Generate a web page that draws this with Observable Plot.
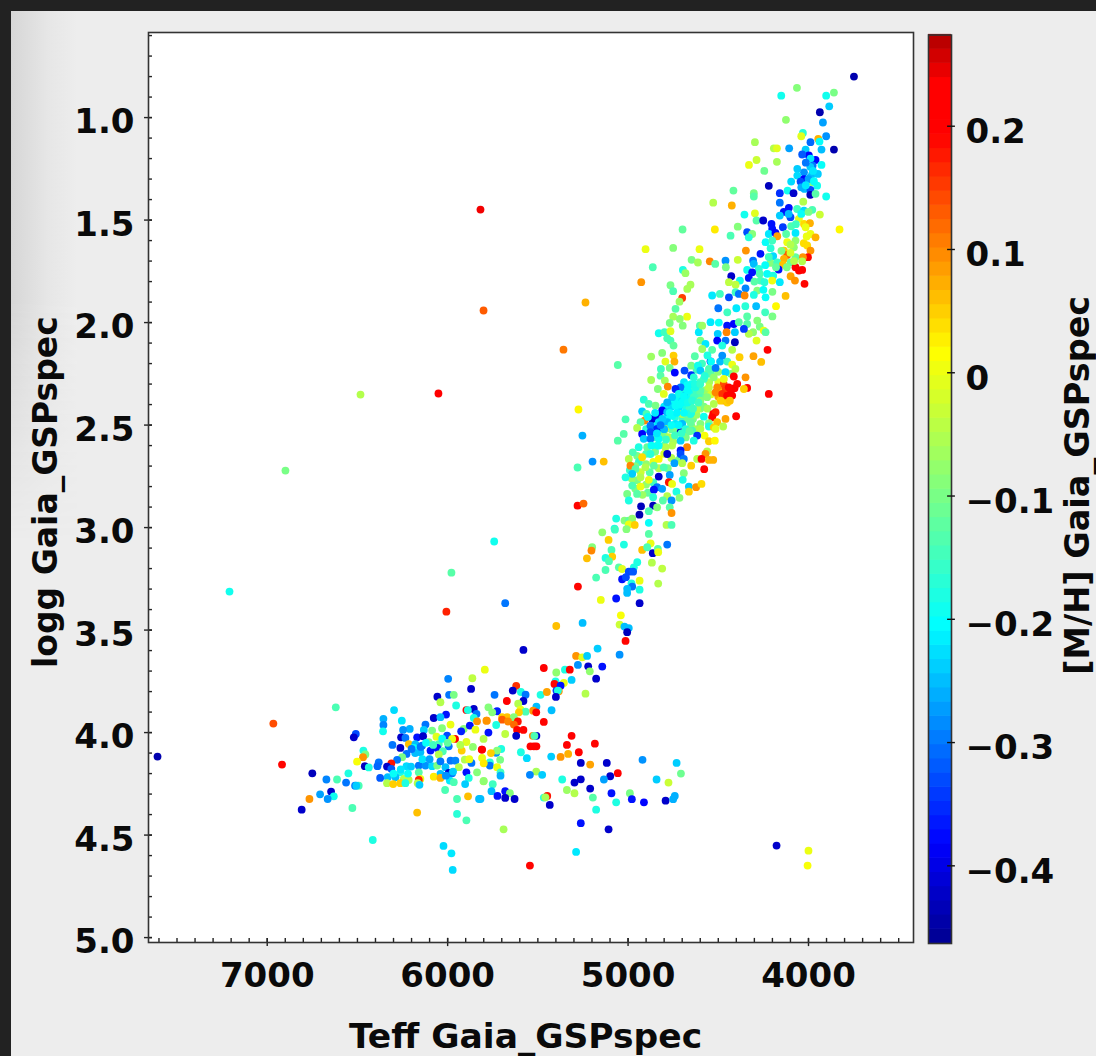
<!DOCTYPE html>
<html><head><meta charset="utf-8">
<script src="https://cdn.jsdelivr.net/npm/d3@7"></script>
<script src="https://cdn.jsdelivr.net/npm/@observablehq/plot@0.6"></script>
<style>
html,body{margin:0;padding:0;background:#ededed}
#page{position:relative;width:1096px;height:1056px;overflow:hidden;background:#ededed}
#shade{position:absolute;left:11px;top:11px;width:66px;height:560px;background:linear-gradient(to right,#d6d6d6,#e6e6e6 55%,#ededed);-webkit-mask-image:linear-gradient(to bottom,#000 0,#000 290px,transparent 530px);mask-image:linear-gradient(to bottom,#000 0,#000 290px,transparent 530px)}
#barTop{position:absolute;left:0;top:0;width:1096px;height:11px;background:#222}
#barLeft{position:absolute;left:0;top:0;width:11px;height:1056px;background:#222}
#page svg{position:absolute;left:0;top:0}
#page svg text{font-family:"DejaVu Sans",sans-serif;font-weight:bold;fill:#0a0a0a}
</style></head><body>
<div id="page"><div id="shade"></div><div id="barTop"></div><div id="barLeft"></div></div>
<script>
// [Teff, logg, [M/H]]
const outliers=[[7608,4.117,-.44],[6966,3.956,.14],[7209,3.312,-.19],[6899,2.722,-.1],[6483,2.351,-.05],[6051,2.346,.23],[5818,1.449,.24],[5801,1.941,.13],[5358,2.132,.11],[5236,1.902,.07],[5275,2.424,.02],[5253,2.551,-.26],[5280,2.707,-.14],[5197,2.678,-.28],[5280,2.893,.19],[5247,2.883,.12],[5979,3.22,-.13],[6007,3.41,.17],[4177,4.551,-.42],[4000,4.576,0],[4005,4.649,.01],[5742,3.068,-.19],[5681,3.369,-.3],[5544,4.649,.19]];
const upperBranch=[[3748,.80,-.44],[4064,.855,-.09],[4151,.893,-.19],[3902,.893,-.19],[3859,.878,-.1],[3885,.945,-.24],[3937,.974,-.44],[4125,1.011,-.08],[3920,1.024,-.27],[4031,1.075,-.17],[4040,1.091,-.01],[3946,1.104,.07],[3902,1.091,-.28],[3989,1.12,-.31],[3939,1.117,-.2],[4297,1.12,-.06],[4192,1.15,-.05],[4175,1.15,-.01],[4107,1.15,-.27],[3859,1.156,-.44],[3928,1.156,-.25],[4016,1.156,-.24],[3998,1.185,-.38],[4035,1.18,-.32],[3961,1.207,-.38],[3989,1.2,-.22],[4288,1.207,-.03],[4330,1.231,0],[4175,1.216,-.06],[3928,1.231,-.2],[3977,1.234,-.3],[4245,1.26,-.11],[4062,1.25,-.24],[4025,1.267,-.28],[3979,1.275,-.24],[3948,1.275,-.24],[4062,1.283,-.23],[4025,1.3,-.38],[3989,1.29,-.25],[4096,1.312,-.23],[4044,1.312,-.33],[3979,1.315,-.09],[3952,1.332,-.19],[4220,1.333,-.43],[4416,1.356,-.12],[4116,1.356,-.19],[4022,1.348,-.25],[3989,1.353,-.33],[4303,1.369,-.1],[4303,1.385,-.13],[4159,1.369,-.35],[4083,1.369,-.42],[3990,1.377,-.43],[3961,1.372,-.13],[3902,1.385,-.19],[4528,1.415,-.05],[4425,1.429,.07],[4159,1.415,-.3],[4029,1.41,-.05],[4109,1.44,-.37],[4137,1.46,-.37],[4063,1.446,-.15],[4025,1.454,-.23],[3979,1.45,-.14],[4355,1.473,-.19],[4297,1.467,-.01],[3937,1.473,-.03],[4159,1.478,-.24],[4100,1.486,-.33],[4288,1.502,-.13],[4251,1.502,-.42],[4053,1.494,-.01],[4025,1.519,.04],[3992,1.515,.07],[4205,1.519,-.37],[4201,1.543,-.37],[4142,1.535,-.34],[4096,1.53,-.14],[4016,1.535,0],[4698,1.546,-.12],[4519,1.546,.03],[4392,1.532,-.09],[3828,1.546,.02],[4340,1.559,-.33],[4312,1.568,-.09],[4432,1.576,-.14],[4331,1.584,-.17],[4220,1.568,-.22],[4183,1.563,-.38],[4124,1.568,-.13],[4072,1.563,-.22],[3989,1.568,0],[3961,1.584,.07],[4173,1.579,.08],[4238,1.608,-.2],[4201,1.6,-.15],[4118,1.608,0],[4072,1.6,-.08],[4026,1.613,.04],[4903,1.642,0],[4750,1.636,-.09],[4604,1.642,0],[4347,1.649,.09],[4210,1.637,-.17],[4136,1.649,.05],[4081,1.633,-.08],[4007,1.624,.04],[3989,1.649,.09],[4266,1.665,-.37],[4196,1.676,-.23],[4118,1.67,.13],[4136,1.689,.07],[4072,1.681,-.12],[4003,1.681,.19],[4031,1.681,.09],[4648,1.694,-.1],[4613,1.707,-.06],[4547,1.701,.1],[4517,1.714,-.13],[4460,1.698,-.28],[4458,1.73,-.1],[4392,1.694,-.03],[4307,1.698,-.3],[4303,1.714,-.25],[4210,1.709,-.09],[4173,1.706,-.15],[4142,1.717,.06],[4099,1.706,-.12],[4035,1.701,-.05],[4863,1.73,-.14],[4696,1.743,-.18],[4682,1.759,-.07],[4340,1.743,-.19],[4275,1.738,-.17],[4166,1.741,-.37],[4072,1.73,.2],[4035,1.743,.2],[4053,1.746,.2],[4428,1.774,-.42],[4312,1.755,-.37],[4331,1.782,-.37],[4270,1.762,-.14],[4229,1.762,-.2],[4099,1.774,.08],[4196,1.771,-.18],[4927,1.803,.09],[4765,1.818,-.1],[4654,1.815,-.06],[4672,1.836,-.06],[4750,1.847,-.14],[4380,1.795,-.19],[4441,1.803,-.04],[4404,1.815,-.04],[4266,1.795,-.14],[4244,1.803,-.17],[4201,1.795,0],[4159,1.803,-.22],[4075,1.795,.09],[4022,1.811,.19],[4349,1.833,-.29],[4284,1.844,-.09],[4404,1.852,-.15],[4491,1.86,-.15],[4534,1.868,-.22],[4700,1.88,.15],[4441,1.877,-.33],[4386,1.86,-.3],[4354,1.868,.1],[4303,1.865,-.18],[4238,1.877,-.2],[4127,1.87,.06],[3990,1.24,-.24],[4015,1.22,-.3],[3975,1.26,-.22],[4000,1.3,-.27],[4040,1.34,-.26],[3970,1.31,-.2],[4015,1.33,-.22],[4070,1.52,-.15],[4040,1.47,-.2],[4110,1.47,-.25],[4000,1.46,-.1],[4010,1.58,0],[4100,1.62,-.05],[4240,1.72,-.2],[4150,1.65,-.1],[4100,1.66,-.02],[4220,1.68,-.15],[4180,1.73,-.12],[4120,1.73,-.1],[4080,1.7,-.05],[4300,1.8,-.13],[4250,1.84,-.2],[4200,1.85,-.1],[4350,1.92,-.17],[4290,1.92,-.25],[4240,1.95,-.15],[4200,1.97,-.1],[4400,1.93,-.22],[4450,1.95,-.15],[4500,1.93,-.3],[4340,1.97,-.13],[4270,2.02,-.1],[4180,1.92,.02]];
const clump=[[4715,1.898,-.07],[4737,1.933,-.13],[4750,1.971,-.06],[4673,1.971,0],[4769,2.002,-.1],[4713,1.982,-.08],[4697,2.015,-.09],[4830,2.052,-.19],[4798,2.047,-.15],[4765,2.042,-.01],[4783,2.077,-.14],[4765,2.088,-.14],[4748,2.112,-.12],[4872,2.166,-.07],[4811,2.148,-.09],[4748,2.161,.05],[4793,2.19,-.01],[4743,2.19,.07],[5057,2.207,-.13],[4818,2.226,-.15],[4769,2.221,-.1],[4741,2.244,-.38],[4687,2.234,-.33],[4650,2.257,-.35],[4872,2.28,-.06],[4820,2.259,-.13],[4796,2.283,-.06],[4780,2.312,.1],[4835,2.324,-.09],[4802,2.348,-.01],[4630,2.164,-.13],[4602,2.015,-.13],[4608,2.047,-.22],[4589,2.015,-.07],[4543,1.998,-.22],[4497,2.0,-.2],[4451,2.015,-.37],[4414,2.007,-.38],[4386,1.998,-.13],[4340,2.007,-.13],[4284,1.99,-.09],[4248,2.039,0],[4238,2.047,-.13],[4307,2.047,-.08],[4331,2.055,-.05],[4288,2.088,-.01],[4358,2.031,-.34],[4408,2.047,-.24],[4454,2.047,.1],[4503,2.055,-.24],[4506,2.088,-.38],[4460,2.088,-.3],[4408,2.096,-.43],[4599,2.088,-.09],[4571,2.104,-.22],[4589,2.129,-.07],[4534,2.133,-.13],[4478,2.112,-.18],[4423,2.133,-.05],[4478,2.161,-.28],[4382,2.169,.05],[4305,2.164,.08],[4262,2.192,.06],[4227,2.133,.2],[4543,2.189,-.37],[4423,2.205,0],[4405,2.226,-.05],[4613,2.21,-.19],[4599,2.234,-.24],[4552,2.226,-.14],[4515,2.221,-.3],[4460,2.242,-.23],[4636,2.267,-.17],[4580,2.275,-.15],[4525,2.267,-.08],[4469,2.275,0],[4414,2.263,.2],[4349,2.267,.09],[4395,2.299,.19],[4340,2.319,.23],[4358,2.324,.05],[4442,2.316,.19],[4506,2.316,.1],[4220,2.348,.2],[4515,2.34,.1],[4478,2.348,.16],[4423,2.356,.23],[4451,2.356,.2],[4436,2.381,.06],[4488,2.381,.05],[4525,2.397,-.05],[4562,2.364,-.09],[4599,2.332,-.13],[4552,2.316,-.04],[4626,2.316,-.18],[4673,2.307,-.2],[4709,2.316,-.3],[4737,2.324,-.36],[4663,2.34,-.19],[4691,2.356,-.24],[4719,2.348,-.19],[4756,2.364,-.24],[4783,2.389,-.26],[4636,2.364,-.15],[4599,2.381,-.09],[4654,2.397,-.14],[4700,2.389,-.2],[4737,2.405,-.2],[4913,2.376,-.17],[4885,2.397,-.14],[4922,2.433,-.24],[4848,2.405,-.1],[4811,2.429,-.38],[4830,2.454,-.38],[4867,2.47,-.42],[4848,2.462,-.4],[4909,2.478,.1],[4898,2.446,-.14],[4783,2.437,-.25],[4756,2.454,-.2],[4700,2.446,-.05],[4654,2.446,-.18],[4617,2.421,-.05],[4580,2.459,-.19],[4528,2.446,.21],[4515,2.437,.17],[4534,2.462,.19],[4460,2.47,.08],[4401,2.457,.2],[4506,2.486,.06],[4552,2.491,-.1],[4599,2.494,-.09],[4654,2.486,-.12],[4700,2.494,-.25],[4737,2.494,-.22],[4783,2.486,-.25],[4830,2.486,-.23],[4876,2.503,-.3],[4931,2.486,-.13],[4950,2.514,-.05],[5014,2.472,-.14],[5024,2.543,-.13],[5057,2.576,-.13],[4922,2.543,-.38],[4876,2.535,-.33],[4913,2.567,-.24],[4839,2.519,-.36],[4793,2.519,-.05],[4774,2.559,-.05],[4830,2.567,-.2],[4876,2.567,-.3],[4709,2.535,-.42],[4682,2.524,-.1],[4645,2.527,-.14],[4599,2.519,-.05],[4552,2.507,-.18],[4473,2.507,-.05],[4525,2.511,.05],[4515,2.519,-.01],[4576,2.551,.01],[4617,2.551,-.35],[4709,2.576,-.24],[4636,2.576,-.18],[4552,2.579,.05],[4519,2.576,.02],[4673,2.608,.1],[4709,2.624,-.37],[4756,2.6,-.05],[4793,2.608,-.05],[4839,2.6,-.18],[4894,2.608,-.12],[4941,2.608,-.18],[4974,2.633,-.14],[4996,2.665,-.05],[4922,2.657,.04],[4876,2.641,-.17],[4830,2.665,.02],[4783,2.641,-.42],[4709,2.641,-.33],[5135,2.678,.06],[4562,2.628,-.05],[4571,2.641,.09],[4617,2.665,-.05],[4593,2.665,.2],[4552,2.67,.07],[4528,2.67,.07],[4691,2.665,-.3],[4743,2.686,-.27],[4700,2.686,-.05],[4650,2.698,.05],[4578,2.715,.2],[4987,2.698,.1],[4959,2.714,-.13],[4904,2.706,-.05],[4857,2.698,-.12],[4802,2.706,-.14],[4977,2.738,-.24],[5014,2.755,-.18],[4931,2.755,-.05],[4885,2.767,0],[4830,2.751,-.42],[4769,2.743,-.27],[4691,2.735,-.09],[4697,2.767,-.18],[4977,2.795,-.14],[4931,2.8,0],[4839,2.803,-.3],[4811,2.811,-.27],[4774,2.779,.18],[4756,2.787,0],[4663,2.8,-.24],[4623,2.803,.09],[4593,2.787,.04],[4663,2.825,.05],[5005,2.836,-.1],[4950,2.836,-.13],[4857,2.815,-.37],[4996,2.868,-.18],[4783,2.847,-.05],[4732,2.825,-.18],[4715,2.855,-.09],[4861,2.852,-.17],[4759,2.868,-.28],[4807,2.868,-.13],[4928,2.897,-.43],[4861,2.893,-.43],[4839,2.901,-.09],[4769,2.901,-.13],[4885,2.92,-.14],[4937,2.937,-.44],[4759,2.929,.09],[5066,2.956,-.18],[5020,2.966,-.09],[4996,2.966,-.12],[4977,2.957,-.08],[4996,2.985,0],[4963,2.987,.05],[4885,2.977,-.2],[4787,2.987,-.05],[4759,2.987,-.14],[5075,3.005,-.18],[5009,3.008,-.09]];
const clumpCore=[[4700,2.33,-.2],[4685,2.34,-.17],[4670,2.36,-.2],[4720,2.37,-.19],[4745,2.38,-.2],[4700,2.38,-.22],[4680,2.41,-.18],[4660,2.42,-.15],[4720,2.42,-.22],[4760,2.41,-.23],[4800,2.41,-.22],[4780,2.46,-.2],[4740,2.46,-.17],[4700,2.47,-.15],[4670,2.47,-.12],[4640,2.47,-.1],[4620,2.45,-.07],[4600,2.42,-.08],[4580,2.41,-.1],[4560,2.42,-.06],[4590,2.36,-.12],[4610,2.35,-.14],[4640,2.33,-.15],[4650,2.3,-.19],[4690,2.29,-.22],[4600,2.29,-.14],[4570,2.33,-.07],[4540,2.35,-.02],[4550,2.29,-.06],[4500,2.29,-.01],[4490,2.33,.04],[4470,2.3,.14],[4460,2.32,.15],[4430,2.33,.2],[4410,2.32,.22],[4500,2.36,.08],[4470,2.38,.09],[4450,2.39,.05],[4560,2.25,-.1],[4590,2.2,-.15],[4540,2.25,-.13],[4500,2.24,-.08],[4490,2.19,-.25],[4450,2.19,-.15],[4430,2.25,-.1],[4620,2.23,-.15],[4650,2.21,-.1],[4860,2.5,-.2],[4820,2.53,-.12],[4800,2.55,-.1],[4850,2.56,-.15],[4900,2.52,-.17],[4760,2.52,-.12],[4730,2.53,-.1],[4650,2.5,-.1],[4620,2.52,-.06],[4680,2.56,-.1],[4750,2.58,-.06],[4800,2.6,-.12],[4850,2.63,-.1],[4900,2.64,-.14],[4950,2.65,-.1],[4800,2.64,-.02],[4760,2.66,-.05],[4720,2.67,-.1],[4860,2.68,0],[4900,2.69,-.08],[4940,2.68,-.16],[4960,2.7,-.1],[4830,2.71,-.05],[4780,2.71,-.1],[4880,2.73,-.13],[4930,2.73,-.03],[4990,2.72,-.16],[4950,2.77,-.1],[4900,2.79,-.08],[4960,2.81,-.1],[4890,2.83,-.12],[4920,2.84,-.07],[4980,2.76,-.07],[4860,2.78,-.15]];
const clumpTop=[[4690,2.36,-.2],[4715,2.4,-.2],[4670,2.39,-.19],[4645,2.38,-.17],[4650,2.44,-.18],[4690,2.44,-.2],[4730,2.44,-.21],[4770,2.44,-.2],[4810,2.47,-.24],[4760,2.5,-.2],[4720,2.5,-.21],[4680,2.52,-.17],[4640,2.42,-.15],[4610,2.39,-.15],[4630,2.3,-.18],[4670,2.33,-.2],[4800,2.52,-.25],[4840,2.54,-.22],[4870,2.6,-.2],[4830,2.6,-.2],[4790,2.57,-.16],[4740,2.55,-.15],[4705,2.54,-.16],[4660,2.53,-.12],[4600,2.3,-.16],[4575,2.26,-.17],[4540,2.19,-.2],[4560,2.16,-.18],[4890,2.46,-.2],[4850,2.44,-.22],[4820,2.5,-.3]];
const subgiants=[[5143,3.023,-.08],[5073,3.01,-.15],[5108,3.06,.05],[4885,3.031,-.13],[5023,3.083,-.18],[5199,3.096,-.09],[5203,3.112,.1],[5092,3.109,-.14],[5088,3.142,.05],[5125,3.148,-.18],[5228,3.15,.06],[5106,3.164,-.14],[4922,3.109,.06],[4875,3.077,0],[4894,3.096,-.14],[4863,3.125,-.42],[4835,3.104,-.13],[4833,3.12,0],[4783,3.083,-.3],[4868,3.171,-.05],[4811,3.2,-.04],[4949,3.169,-.18],[4968,3.194,-.18],[5125,3.207,-.14],[5051,3.194,-.13],[5033,3.202,-.01],[4996,3.215,-.33],[4972,3.215,-.32],[5177,3.244,-.14],[5033,3.252,-.37],[5012,3.242,-.33],[4981,3.272,-.18],[4977,3.288,-.3],[4936,3.259,0],[4833,3.273,-.05],[5278,3.288,.19],[4936,3.303,-.18],[5005,3.299,-.25],[5005,3.319,-.25],[5151,3.353,0],[5066,3.346,-.37],[4936,3.369,-.42],[5040,3.428,.01],[5047,3.473,-.03],[5398,3.48,.06],[5252,3.465,-.25],[5020,3.483,-.25],[4996,3.49,-.25],[5005,3.51,-.43],[5014,3.553,.19],[5580,3.597,-.42],[5169,3.59,-.24],[5047,3.62,-.28],[5288,3.626,.09],[5254,3.633,-.01],[5227,3.626,-.24],[5278,3.67,-.28],[5221,3.677,-.42],[5143,3.678,-.37],[5467,3.685,.23],[5794,3.693,0],[5350,3.693,-.18],[5323,3.693,.2],[5398,3.707,-.08],[5212,3.701,-.08],[5177,3.737,-.42],[5313,3.743,-.24],[5402,3.75,-.18],[5356,3.758,0],[5408,3.763,.19],[5620,3.772,.16],[5374,3.771,-.37],[5639,3.795,-.42],[5594,3.802,-.18],[5568,3.815,-.3],[5740,3.816,-.3],[5397,3.795,-.34],[5384,3.798,.09],[5389,3.795,-.18],[5485,3.816,-.18],[5450,3.802,.08],[5400,3.826,-.42],[5236,3.81,-.05],[5672,3.846,.2],[5580,3.846,-.42],[5609,3.859,-.05],[5774,3.877,-.09],[5508,3.873,-.25],[5596,3.888,0],[5726,3.896,-.36],[5753,3.901,-.09],[5568,3.898,-.14],[5424,3.891,-.25],[5526,3.893,.09],[5509,3.901,.22],[5605,3.901,.05],[5698,3.925,.05],[5670,3.925,.06],[5633,3.925,-.09],[5698,3.937,.13],[5783,3.942,.09],[5611,3.946,.18],[5467,3.948,.19],[5665,3.946,.1],[5633,3.961,.12],[5731,3.963,-.18],[5615,3.987,.22],[5580,3.987,.19],[5774,4.0,-.37],[5681,4.007,-.04],[5620,4.016,-.42],[5528,4.016,.1],[5508,4.016,-.42],[5519,4.016,-.14],[5313,4.016,.23],[5801,4.031,-.05],[5184,4.054,.19],[5339,4.06,.2],[5541,4.067,.23],[5522,4.067,.23],[5508,4.067,.2],[5809,4.083,.23],[5703,4.08,-.18],[5731,4.099,-.28],[5726,4.088,-.09],[5273,4.096,.23],[5332,4.104,.07],[5594,4.096,-.18],[5374,4.119,.09],[5426,4.117,-.24],[5561,4.125,-.23],[5809,4.124,0],[5709,4.133,-.1],[5766,4.145,-.17],[5766,4.161,-.3],[5262,4.148,-.42],[5118,4.148,-.42],[5210,4.156,.08],[4920,4.133,-.28],[4731,4.148,-.24],[5726,4.169,0],[5707,4.194,-.15],[5707,4.21,-.26],[5509,4.19,-.06],[5544,4.206,-.29],[5476,4.206,-.24],[5057,4.198,.23],[5099,4.213,-.42],[4707,4.2,-.11],[4842,4.229,-.24],[4776,4.244,-.03],[5365,4.229,-.18],[5262,4.228,-.42],[5297,4.244,-.42],[5134,4.229,-.27],[5801,4.238,-.06],[5750,4.252,-.15],[5757,4.286,-.25],[5339,4.28,-.07],[5297,4.296,-.05],[5210,4.273,-.42],[5092,4.296,-.37],[4990,4.296,-.1],[5681,4.286,-.37],[5655,4.296,-.09],[5724,4.309,-.37],[5681,4.319,-.42],[5629,4.324,-.42],[5448,4.309,.18],[5467,4.317,-.17],[5458,4.316,-.06],[5818,4.324,-.25],[5195,4.317,-.13],[5066,4.34,-.18],[4979,4.325,-.37],[4912,4.34,-.38],[4792,4.332,-.42],[4750,4.325,-.26],[4741,4.309,-.26],[5434,4.353,-.42],[5177,4.376,-.18],[5262,4.442,-.37],[5108,4.472,-.42],[5690,4.472,-.06],[5288,4.582,-.22]];
const dwarfs=[[5997,3.738,-.29],[5863,3.735,-.04],[5870,3.787,-.42],[6057,3.825,-.42],[5992,3.816,-.3],[5966,3.816,-.1],[6040,3.852,-.05],[5953,3.868,-.18],[6620,3.877,-.14],[6297,3.89,-.23],[5855,3.885,-.42],[5896,3.89,.19],[5888,3.89,-.18],[6009,3.912,-.37],[6077,3.929,-.42],[6040,3.925,-.25],[6356,3.933,-.26],[6254,3.942,-.22],[5840,3.909,-.3],[5855,3.929,-.18],[5837,3.945,.09],[5785,3.942,.09],[5984,3.961,0],[6123,3.961,-.3],[6356,3.963,-.29],[6210,3.982,-.26],[6247,3.987,-.28],[6132,3.987,-.24],[6358,3.994,-.19],[6086,3.99,-.1],[6031,3.979,-.09],[5911,3.982,-.09],[5877,3.966,-.37],[5846,3.986,0],[5925,3.994,-.36],[6509,4.007,-.33],[6520,4.023,-.42],[6258,4.023,-.42],[6234,4.026,-.3],[6169,4.023,-.37],[6136,4.018,-.42],[6062,4.02,-.01],[6003,4.015,-.33],[5959,4.031,.2],[5975,4.031,0],[5896,4.046,-.01],[6306,4.06,-.3],[6215,4.056,.06],[6179,4.056,-.25],[6105,4.047,-.09],[6049,4.056,-.14],[6188,4.075,-.2],[6142,4.064,-.3],[5994,4.067,-.3],[6262,4.075,-.42],[6467,4.088,-.18],[6095,4.088,-.37],[6058,4.075,-.37],[6027,4.091,-.14],[5922,4.088,.05],[5811,4.083,.22],[6228,4.104,-.3],[6151,4.096,-.25],[6049,4.107,-.05],[6456,4.107,-.1],[6469,4.12,.09],[6252,4.12,-.1],[6280,4.133,-.3],[6502,4.142,.01],[6382,4.145,-.3],[5905,4.132,-.05],[5984,4.137,-.3],[5957,4.137,-.29],[6312,4.15,.18],[6336,4.166,-.42],[6312,4.177,-.32],[6459,4.164,-.43],[6437,4.17,-.18],[6389,4.164,-.31],[6228,4.164,-.23],[6203,4.166,-.24],[6160,4.161,-.3],[6123,4.161,-.28],[6086,4.164,-.23],[6058,4.161,-.1],[6012,4.169,-.25],[5938,4.169,-.05],[5868,4.148,-.3],[5994,4.197,-.42],[5896,4.194,-.37],[6040,4.202,-.25],[5975,4.199,-.3],[6550,4.199,-.18],[6750,4.199,-.43],[6262,4.194,-.18],[6160,4.194,-.13],[5837,4.194,-.09],[6077,4.215,.03],[6040,4.221,.07],[5883,4.221,-.18],[6289,4.218,-.25],[6374,4.221,-.32],[6332,4.218,-.25],[6243,4.226,-.05],[6216,4.231,-.05],[6151,4.226,0],[6160,4.231,.17],[5988,4.234,-.22],[5966,4.242,-.14],[6672,4.229,-.29],[6613,4.229,-.14],[6563,4.244,-.3],[5800,4.236,-.08],[6336,4.247,-.05],[6302,4.251,.05],[6262,4.247,.05],[6234,4.247,-.18],[6166,4.247,-.05],[6156,4.255,-.24],[5903,4.251,-.24],[6513,4.259,-.3],[6493,4.259,-.14],[6506,4.259,-.24],[6646,4.288,-.42],[6707,4.301,-.27],[6631,4.311,-.19],[6665,4.324,-.28],[6766,4.324,.09],[6014,4.28,-.14],[5887,4.311,.06],[5948,4.324,-.14],[5826,4.324,-.25],[6528,4.368,-.14],[6809,4.376,-.42],[6169,4.39,.06],[5948,4.397,-.17],[5896,4.428,-.14],[6415,4.524,-.18],[6023,4.553,-.23],[5979,4.589,-.22],[5972,4.67,-.23],[6918,4.156,.19],[6150,4.07,-.3],[6120,4.05,-.2],[6180,4.1,-.25],[6140,4.13,-.22],[6100,4.13,-.27],[6200,4.08,-.3],[6220,4.2,-.2],[6260,4.18,-.22],[6300,4.2,-.2],[6040,4.14,-.3],[6010,4.21,-.28],[5970,4.19,-.24],[6080,4.06,-.15],[6030,4.03,-.2],[6000,4.05,-.12],[5930,4.06,-.05],[5880,4.13,0],[5860,4.07,-.08],[5800,4.15,.03],[5760,4.1,.05]];
const stars=[...upperBranch,...clumpCore,...clump,...clumpTop,...subgiants,...dwarfs,...outliers];
const teffTicks=[7000,6000,5000,4000];
const loggTicks=[1,1.5,2,2.5,3,3.5,4,4.5,5];
const metalTicks=[.2,.1,0,-.1,-.2,-.3,-.4];
const teffMinor=d3.range(3500,7700,100);
const loggMinor=d3.range(.6,5.05,.1);
const teffDomain=[7658,3418], loggDomain=[5.024,.585], metalDomain=[-.463,.274];
const jetStops=["#000090","#0000ff","#00ffff","#ffff00","#ff0000","#ff0000","#b00000"];
const jet=d3.scaleLinear().domain([0,.11,.35,.65,.89,.945,1]).range(jetStops);
const colorScale={type:"linear",domain:metalDomain,interpolate:()=>t=>jet(t)};
const minus=s=>String(s).replace("-","\u2212");
const fs=34;

const main=Plot.plot({
  width:1096,height:1056,marginLeft:148,marginRight:183,marginTop:32,marginBottom:114,
  style:{background:"transparent"},
  x:{domain:teffDomain},y:{domain:loggDomain},color:colorScale,
  marks:[
    Plot.frame({fill:"white",stroke:"none"}),
    Plot.dot(stars,{x:d=>d[0],y:d=>d[1],fill:d=>d[2],r:3.9}),
    Plot.ruleX(teffMinor,{y1:5.024,y2:5.004,stroke:"#222",strokeWidth:1.4}),
    Plot.ruleX(teffTicks,{y1:5.044,y2:5.004,stroke:"#222",strokeWidth:1.4}),
    Plot.ruleY(loggMinor,{x1:teffDomain[0],x2:teffDomain[0]-22,stroke:"#222",strokeWidth:1.4}),
    Plot.ruleY(loggTicks,{x1:teffDomain[0]+22,x2:teffDomain[0]-22,stroke:"#222",strokeWidth:1.4}),
    Plot.frame({stroke:"#333",strokeWidth:1.6}),
    Plot.axisX(teffTicks,{anchor:"bottom",tickSize:0,tickPadding:20,fontSize:fs,tickFormat:d=>String(d),label:null}),
    Plot.axisY(loggTicks,{anchor:"left",tickSize:0,tickPadding:14,dy:5,fontSize:fs,tickFormat:d=>d.toFixed(1),label:null}),
    Plot.text(["Teff Gaia_GSPspec"],{frameAnchor:"middle",lineAnchor:"bottom",dx:-5.5,dy:560,fontSize:34.5}),
    Plot.text(["logg Gaia_GSPspec"],{frameAnchor:"middle",lineAnchor:"bottom",rotate:-90,dx:-474.5,dy:4.6,fontSize:33})
  ]
});
document.getElementById("page").appendChild(main);

const levels=d3.range(64).map(i=>metalDomain[0]+(metalDomain[1]-metalDomain[0])*i/64);
const step=(metalDomain[1]-metalDomain[0])/64;
const bar=Plot.plot({
  width:1096,height:1056,marginLeft:928,marginRight:145,marginTop:34.5,marginBottom:113,
  style:{background:"transparent"},
  x:{domain:[0,1],axis:null},y:{domain:metalDomain},color:colorScale,
  marks:[
    Plot.rect(levels,{x1:0,x2:1,y1:d=>d,y2:d=>d+step+.0005,fill:d=>d+step/2}),
    Plot.frame({stroke:"#333",strokeWidth:1.6}),
    Plot.ruleY(metalTicks,{x1:.83,x2:1.17,stroke:"#111",strokeWidth:1.4}),
    Plot.axisY(metalTicks,{anchor:"right",tickSize:0,tickPadding:14,dy:6,fontSize:fs,tickFormat:d=>minus(d),label:null}),
    Plot.text(["[M/H] Gaia_GSPspec"],{frameAnchor:"middle",lineAnchor:"bottom",rotate:-90,dx:148.5,dy:-4,fontSize:33.5})
  ]
});
document.getElementById("page").appendChild(bar);
</script></body></html>
